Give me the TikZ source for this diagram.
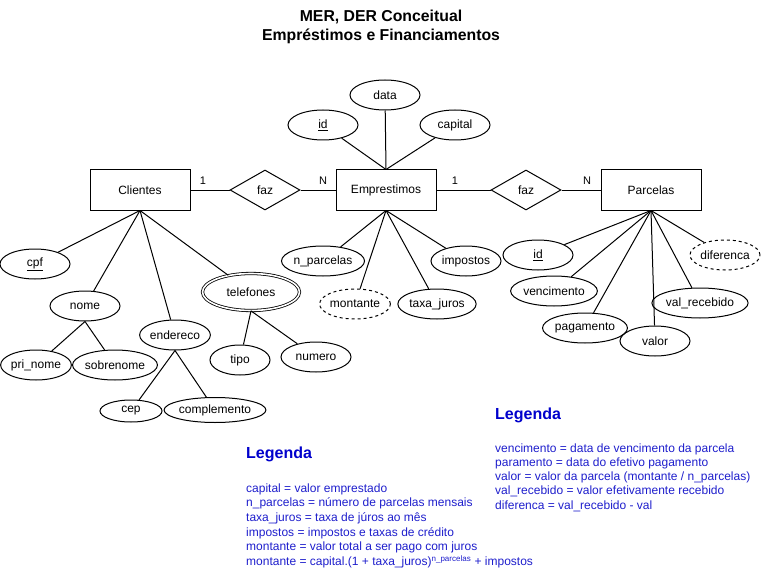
\documentclass[tikz,border=0pt]{standalone}
\usepackage{fontspec}
\setmainfont{Liberation Sans}
\usetikzlibrary{shapes.geometric}
\definecolor{legtitle}{RGB}{0,0,204}
\definecolor{legtext}{RGB}{30,30,204}
\begin{document}
\begin{tikzpicture}[x=1pt,y=-1pt,
  every node/.style={font=\fontsize{12}{14}\selectfont},
  ent/.style={draw, rectangle, line width=1pt, minimum width=100pt, minimum height=40pt, inner sep=0pt},
  rel/.style={draw, diamond, line width=1pt, minimum width=70pt, minimum height=40pt, inner sep=0pt},
  attr/.style={draw, ellipse, line width=1pt, minimum width=70pt, minimum height=30pt, inner sep=0pt},
  der/.style={attr, dash pattern=on 3pt off 3pt},
  card/.style={font=\fontsize{11}{13}\selectfont, inner sep=0pt},
  conn/.style={draw, line width=1pt},
  ttl/.style={font=\fontsize{15.8}{18}\selectfont\bfseries, inner sep=0pt, anchor=base},
  legt/.style={font=\fontsize{16}{18}\selectfont\bfseries, text=legtitle, inner sep=0pt, anchor=base west},
  legl/.style={font=\fontsize{12}{14}\selectfont, text=legtext, inner sep=0pt, anchor=base west}]
\useasboundingbox (0,0) rectangle (762,572);

% title
\node[ttl] (t1) at (381,21.5) {MER, DER Conceitual};
\node[ttl] (t2) at (381,40.5) {Empréstimos e Financiamentos};

% entities and relationships
\node[ent] (cli) at (140,190) {Clientes};
\node[rel] (faz1) at (265,190) {faz};
\node[ent] (emp) at (386,190) {Emprestimos};
\node[rel] (faz2) at (526,190) {faz};
\node[ent] (par) at (651,190) {Parcelas};

\node[card] (c1) at (203,181) {1};
\node[card] (c2) at (323,181) {N};
\node[card] (c3) at (455,181) {1};
\node[card] (c4) at (587,181) {N};

\draw[conn] (cli) -- (faz1) -- (emp) -- (faz2) -- (par);

% Emprestimos attributes
\node[attr] (data) at (385,95) {data};
\node[attr] (eid) at (323,125) {\underline{id}};
\node[attr] (cap) at (455,125) {capital};
\node[attr] (npar) at (323,261) {n\_parcelas};
\node[attr] (imp) at (466,261) {impostos};
\node[der] (mont) at (355,304) {montante};
\node[attr] (taxa) at (437,304) {taxa\_juros};

\draw[conn] (data) -- (emp.north);
\draw[conn] (eid) -- (emp.north);
\draw[conn] (cap) -- (emp.north);
\draw[conn] (npar) -- (emp.south);
\draw[conn] (imp) -- (emp.south);
\draw[conn] (mont) -- (emp.south);
\draw[conn] (taxa) -- (emp.south);

% Parcelas attributes
\node[attr] (pid) at (538,255) {\underline{id}};
\node[der] (dif) at (725,255) {diferenca};
\node[attr] (venc) at (554,291) {vencimento};
\node[attr] (valr) at (700,303) {val\_recebido};
\node[attr] (pag) at (585,328) {pagamento};
\node[attr] (valor) at (655,341) {valor};

\draw[conn] (pid) -- (par.south);
\draw[conn] (dif) -- (par.south);
\draw[conn] (venc) -- (par.south);
\draw[conn] (valr) -- (par.south);
\draw[conn] (pag) -- (par.south);
\draw[conn] (valor) -- (par.south);

% Clientes attributes
\node[attr] (cpf) at (35,264) {\underline{cpf}};
\node[attr] (nome) at (85,306) {nome};
\node[attr] (end) at (175,335) {endereco};
\node[draw, ellipse, line width=0.8pt, double, double distance=1.6pt,
      minimum width=97pt, minimum height=37pt, inner sep=0pt] (tel) at (251,292) {telefones};
\node[attr, minimum width=62pt] (pri) at (36,365) {pri\_nome};
\node[attr] (sob) at (115,365) {sobrenome};
\node[attr, minimum width=60pt] (tipo) at (240,360) {tipo};
\node[attr] (num) at (316,357) {numero};
\node[attr, minimum width=62pt, minimum height=22pt] (cep) at (131,411) {cep};
\node[attr, minimum width=90pt, minimum height=25pt] (comp) at (215,410) {complemento};

\draw[conn] (cpf) -- (cli.south);
\draw[conn] (nome) -- (cli.south);
\draw[conn] (end) -- (cli.south);
\draw[conn] (tel) -- (cli.south);
\draw[conn] (pri) -- (nome.south);
\draw[conn] (sob) -- (nome.south);
\draw[conn] (tipo) -- (tel.south);
\draw[conn] (num) -- (tel.south);
\draw[conn] (cep) -- (end.south);
\draw[conn] (comp) -- (end.south);

% legend 1
\node[legt] (lg1) at (246,458) {Legenda};
\node[legl] (l11) at (246,492) {capital = valor emprestado};
\node[legl] (l12) at (246,506.7) {n\_parcelas = número de parcelas mensais};
\node[legl] (l13) at (246,521.4) {taxa\_juros = taxa de júros ao mês};
\node[legl] (l14) at (246,536.1) {impostos = impostos e taxas de crédito};
\node[legl] (l15) at (246,550.8) {montante = valor total a ser pago com juros};
\node[legl] (l16) at (246,565.5) {montante = capital.(1 + taxa\_juros)\textsuperscript{n\_parcelas} + impostos};

% legend 2
\node[legt] (lg2) at (495,419) {Legenda};
\node[legl] (l21) at (495,452) {vencimento = data de vencimento da parcela};
\node[legl] (l22) at (495,466.3) {paramento = data do efetivo pagamento};
\node[legl] (l23) at (495,480.6) {valor = valor da parcela (montante / n\_parcelas)};
\node[legl] (l24) at (495,494.9) {val\_recebido = valor efetivamente recebido};
\node[legl] (l25) at (495,509.2) {diferenca = val\_recebido - val};
\end{tikzpicture}
\end{document}
